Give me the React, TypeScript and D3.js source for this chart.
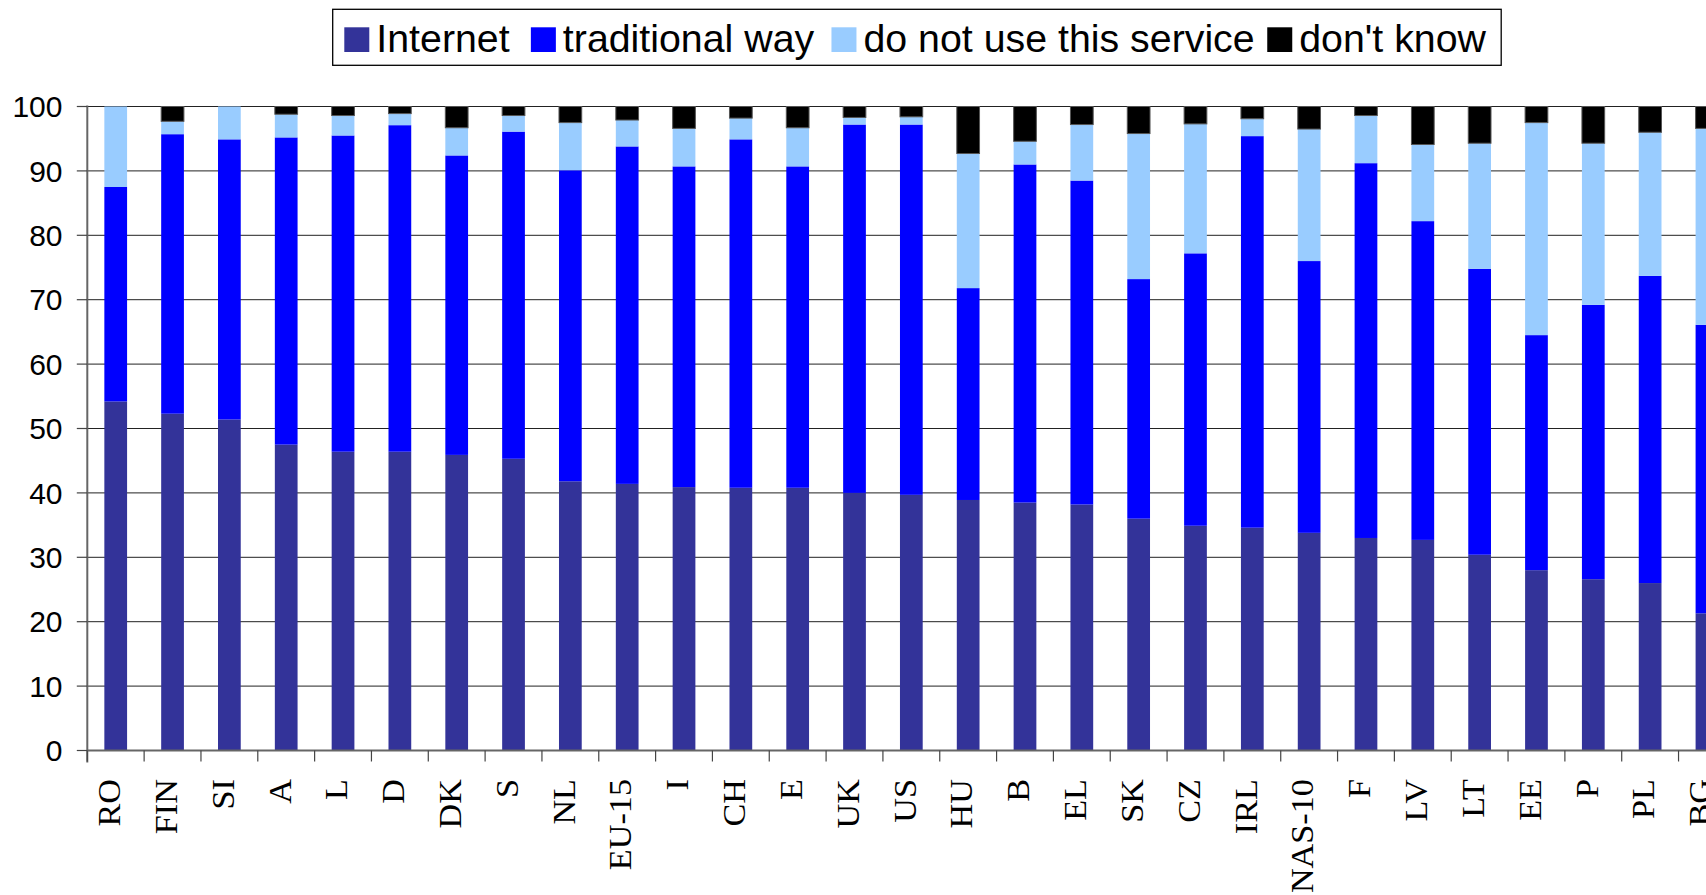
import React, { useMemo } from "react";
import * as d3 from "d3";

// Country / aggregate codes, in drawing order
const categories = [
  "RO", "FIN", "SI", "A", "L", "D", "DK", "S", "NL", "EU-15", "I", "CH", "E", "UK", "US",
  "HU", "B", "EL", "SK", "CZ", "IRL", "NAS-10", "F", "LV", "LT", "EE", "P", "PL", "BG",
];

// Share of respondents (%) per answer, stacked bottom to top
const internet = [
  54.2, 52.3, 51.4, 47.5, 46.4, 46.4, 45.9, 45.3, 41.8, 41.4, 40.9, 40.8, 40.8, 40.0, 39.7,
  38.9, 38.5, 38.2, 36.0, 34.9, 34.6, 33.8, 33.0, 32.7, 30.4, 28.0, 26.6, 26.0, 21.3,
];
const traditionalWay = [
  33.3, 43.4, 43.5, 47.7, 49.1, 50.7, 46.5, 50.8, 48.3, 52.4, 49.8, 54.1, 49.9, 57.2, 57.5,
  32.9, 52.5, 50.3, 37.2, 42.3, 60.8, 42.2, 58.2, 49.5, 44.4, 36.5, 42.6, 47.7, 44.8,
];
const doNotUse = [
  12.5, 2.0, 5.1, 3.6, 3.1, 1.8, 4.3, 2.5, 7.4, 4.1, 5.9, 3.3, 6.0, 1.1, 1.2,
  20.9, 3.6, 8.7, 22.6, 20.1, 2.7, 20.5, 7.4, 11.9, 19.5, 33.0, 25.1, 22.3, 30.5,
];
const dontKnow = [
  0.0, 2.3, 0.0, 1.2, 1.4, 1.1, 3.3, 1.4, 2.5, 2.1, 3.4, 1.8, 3.3, 1.7, 1.6,
  7.3, 5.4, 2.8, 4.2, 2.7, 1.9, 3.5, 1.4, 5.9, 5.7, 2.5, 5.7, 4.0, 3.4,
];

const seriesNames = ["Internet", "traditional way", "do not use this service", "don't know"];
const seriesColors = ["#333399", "#0000FF", "#99CCFF", "#000000"];
const yTicks = [0, 10, 20, 30, 40, 50, 60, 70, 80, 90, 100];

const W = 1706;
const H = 895;
const SANS = '"Liberation Sans", Arial, sans-serif';
const SERIF = '"Liberation Serif", "Times New Roman", serif';
const LEGEND_STRETCH = 1.035;
const LABEL_STRETCH = 1.07;

function measure(text: string, font: string): number {
  const ctx = document.createElement("canvas").getContext("2d");
  if (!ctx) return text.length * 20;
  ctx.font = font;
  return ctx.measureText(text).width;
}

export default function App() {
  const plotLeft = 87.3;
  const step = 56.83;
  const x = d3
    .scaleBand<string>()
    .domain(categories)
    .range([plotLeft, plotLeft + step * categories.length])
    .paddingInner(0.6)
    .paddingOuter(0.3);
  const y = d3.scaleLinear().domain([0, 100]).range([750.5, 106.5]);

  const rows = categories.map((c, i) => ({
    cat: c,
    s0: internet[i],
    s1: traditionalWay[i],
    s2: doNotUse[i],
    s3: dontKnow[i],
  }));
  const stacked = d3.stack<any>().keys(["s0", "s1", "s2", "s3"])(rows);

  // legend flow layout: entries advance by the plain text width
  const legendFont = `38px ${SANS}`;
  const legendItems = useMemo(() => {
    let cx = 344.3;
    return seriesNames.map((name, i) => {
      const item = { name, color: seriesColors[i], mx: cx, tx: cx + 32 };
      cx = cx + 32 + measure(name, legendFont) + 25.7;
      return item;
    });
  }, []);

  const xEnd = W;
  const boundaries = d3.range(categories.length + 1).map((k) => plotLeft + k * x.step());

  return (
    <svg
      width={W}
      height={H}
      style={{ position: "absolute", left: 0, top: 0, display: "block", background: "#fff" }}
    >
      {/* gridlines */}
      {yTicks.map((t) => (
        <line key={"g" + t} x1={plotLeft} x2={xEnd} y1={y(t)} y2={y(t)} stroke="#222" strokeWidth={1} />
      ))}

      {/* stacked bars */}
      {stacked.map((layer, li) => (
        <g key={layer.key} fill={seriesColors[li]}>
          {layer.map((d, i) => {
            const h = y(d[0]) - y(d[1]);
            if (h <= 0.05) return null;
            return (
              <rect
                key={categories[i]}
                x={x(categories[i])}
                y={y(d[1])}
                width={x.bandwidth()}
                height={h}
                stroke={li === 3 ? "#555" : "none"}
                strokeWidth={li === 3 ? 1 : 0}
              />
            );
          })}
        </g>
      ))}

      {/* y axis */}
      <line x1={plotLeft} x2={plotLeft} y1={y(100) - 1} y2={y(0) + 12} stroke="#666" strokeWidth={2} />
      {yTicks.map((t) => (
        <g key={"yt" + t}>
          <line x1={plotLeft - 10.5} x2={plotLeft} y1={y(t)} y2={y(t)} stroke="#444" strokeWidth={1.2} />
          <text
            x={62.5}
            y={y(t)}
            dy={10.7}
            textAnchor="end"
            fontFamily={SANS}
            fontSize={30}
            fill="#000"
          >
            {t}
          </text>
        </g>
      ))}

      {/* x axis */}
      <line x1={plotLeft} x2={xEnd} y1={y(0)} y2={y(0)} stroke="#666" strokeWidth={2} />
      {boundaries.map((bx, k) => (
        <line key={"xt" + k} x1={bx} x2={bx} y1={y(0)} y2={y(0) + 11} stroke="#444" strokeWidth={1.2} />
      ))}
      {categories.map((c) => {
        const cx = (x(c) as number) + x.bandwidth() / 2 + 4.3;
        return (
          <text
            key={"xl" + c}
            transform={`translate(${cx},779) rotate(-90) scale(${LABEL_STRETCH},1)`}
            textAnchor="end"
            fontFamily={SERIF}
            fontSize={32}
            fill="#000"
          >
            {c}
          </text>
        );
      })}

      {/* legend */}
      <rect x={332.7} y={9.3} width={1168.5} height={56} fill="#fff" stroke="#000" strokeWidth={1.3} />
      {legendItems.map((it) => (
        <g key={it.name}>
          <rect x={it.mx} y={27.3} width={25} height={24.7} fill={it.color} />
          <text
            transform={`translate(${it.tx},52.3) scale(${LEGEND_STRETCH},1)`}
            fontFamily={SANS}
            fontSize={38}
            fill="#000"
          >
            {it.name}
          </text>
        </g>
      ))}
    </svg>
  );
}
